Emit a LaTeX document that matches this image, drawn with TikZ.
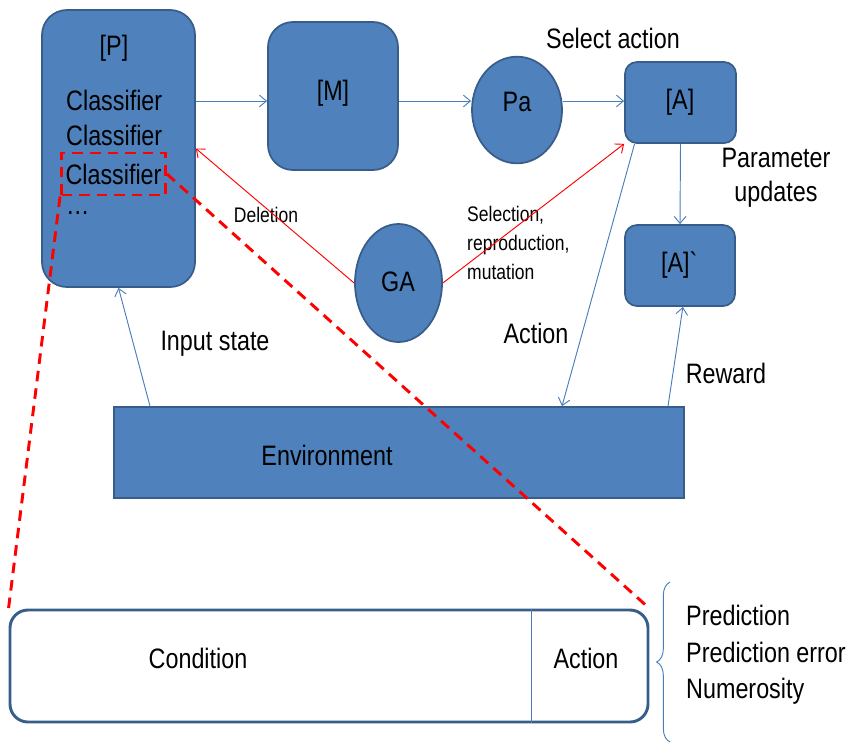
\documentclass[tikz,border=0pt]{standalone}
\usepackage{fontspec}
\setmainfont[FakeStretch=0.83]{Liberation Sans}
\usetikzlibrary{shapes.geometric,arrows.meta,decorations.pathreplacing}
\definecolor{boxfill}{HTML}{4F81BD}
\definecolor{boxline}{HTML}{385D8A}
\definecolor{flowline}{HTML}{4A7EBB}
\newcommand{\bigtxt}{\fontsize{24}{29}\selectfont}
\newcommand{\smalltxt}{\fontsize{18}{25}\selectfont}
\begin{document}
\begin{tikzpicture}[x=0.03cm,y=-0.03cm,>={Straight Barb[length=6pt,width=10pt]},
    blk/.style={draw=boxline,line width=1.5pt,fill=boxfill,rounded corners=#1},
    blk/.default=0.36cm,
    oval/.style={draw=boxline,line width=1.5pt,fill=boxfill,ellipse},
    txt/.style={inner sep=0pt,font=\bigtxt},
    small/.style={inner sep=0pt,font=\smalltxt,align=left},
    flow/.style={->,draw=flowline,line width=0.8pt},
    gaflow/.style={->,draw=red,line width=0.8pt},
    zoomline/.style={draw=red,line width=2.5pt,dash pattern=on 9pt off 6pt}]
    \useasboundingbox (0,0) rectangle (850,742);
    % top row
    \node[blk=0.75cm,minimum width=4.59cm,minimum height=8.31cm] (pop) at (118.5,148.5) {};
    \node[blk=0.75cm,minimum width=3.9cm,minimum height=4.44cm] (match) at (333,96) {};
    \node[oval,minimum width=2.7cm,minimum height=3.2cm] (pa) at (517,110) {};
    \node[blk,minimum width=3.33cm,minimum height=2.43cm] (act) at (680.5,102.5) {};
    \node[blk,minimum width=3.3cm,minimum height=2.43cm] (actNext) at (680,265.5) {};
    \node[oval,minimum width=2.61cm,minimum height=3.54cm] (ga) at (398.5,283) {};
    \node[draw=boxline,line width=1.5pt,fill=boxfill,minimum width=17.1cm,minimum height=2.73cm] (env) at (399,452.5) {};
    % texts inside the shapes
    \node[txt] (popLabel) at (114,48) {[P]};
    \node[txt,anchor=west] (cls1) at (66,100) {Classifier};
    \node[txt,anchor=west] (cls2) at (66,135) {Classifier};
    \node[txt,draw=red,line width=2.5pt,dash pattern=on 9pt off 6pt,inner xsep=0.12cm,minimum height=1.26cm] (cls3) at (113.5,174) {Classifier};
    \node[txt,anchor=west] (dots) at (66,213) {…};
    \node[txt] (matchLabel) at (333,93) {[M]};
    \node[txt] (paLabel) at (517,102) {Pa};
    \node[txt] (actLabel) at (680,102) {[A]};
    \node[txt] (actNextLabel) at (680,265) {[A]\textasciigrave};
    \node[txt] (gaLabel) at (398,282) {GA};
    \node[txt] (envLabel) at (327,455) {Environment};
    % labels
    \node[txt] (selLabel) at (613,38) {Select action};
    \node[txt,align=center] (updLabel) at (776,178) {Parameter\\updates};
    \node[small] (delLabel) at (266,215) {Deletion};
    \node[small,anchor=west] (gaOps) at (467,243) {Selection,\\reproduction,\\mutation};
    \node[txt] (actionLabel) at (536,333) {Action};
    \node[txt] (inLabel) at (215,344) {Input state};
    \node[txt] (rewLabel) at (726,373) {Reward};
    % arrows
    \coordinate (row) at (0,101);
    \draw[flow] (pop.east |- row) -- (match.west |- row);
    \draw[flow] (match.east |- row) -- (pa.west |- row);
    \draw[flow] (pa.east |- row) -- (act.west |- row);
    \draw[flow] (act.south) -- (actNext.north);
    \draw[flow] (act.222) -- ([xshift=4.89cm]env.north);
    \draw[flow] ([xshift=8.07cm]env.north) -- (actNext.274);
    \draw[flow] ([xshift=-7.47cm]env.north) -- (pop.south);
    \draw[gaflow] (ga.west) -- (pop.east);
    \draw[gaflow] (ga.east) -- (act.south west);
    % classifier detail
    \node[draw=boxline,line width=2.5pt,fill=white,rounded corners=0.54cm,minimum width=19.14cm,minimum height=3.36cm] (bar) at (329,666) {};
    \coordinate (cut) at (531,666);
    \draw[flowline,line width=0.8pt] (bar.north -| cut) -- (bar.south -| cut);
    \node[txt] (condLabel) at (198,658) {Condition};
    \node[txt] (barAct) at (586,658) {Action};
    \draw[zoomline] (cls3.south west) -- (bar.north west);
    \draw[zoomline] (cls3.east) -- (bar.north east);
    \coordinate (braceBot) at (670,742);
    \coordinate (braceTop) at (670,582);
    \draw[flowline,line width=0.8pt,decorate,decoration={brace,amplitude=0.4cm}] (braceBot) -- (braceTop);
    \node[txt,align=left,anchor=west,font=\fontsize{24}{31}\selectfont] (params) at (686,655) {Prediction\\Prediction error\\Numerosity};
\end{tikzpicture}
\end{document}
